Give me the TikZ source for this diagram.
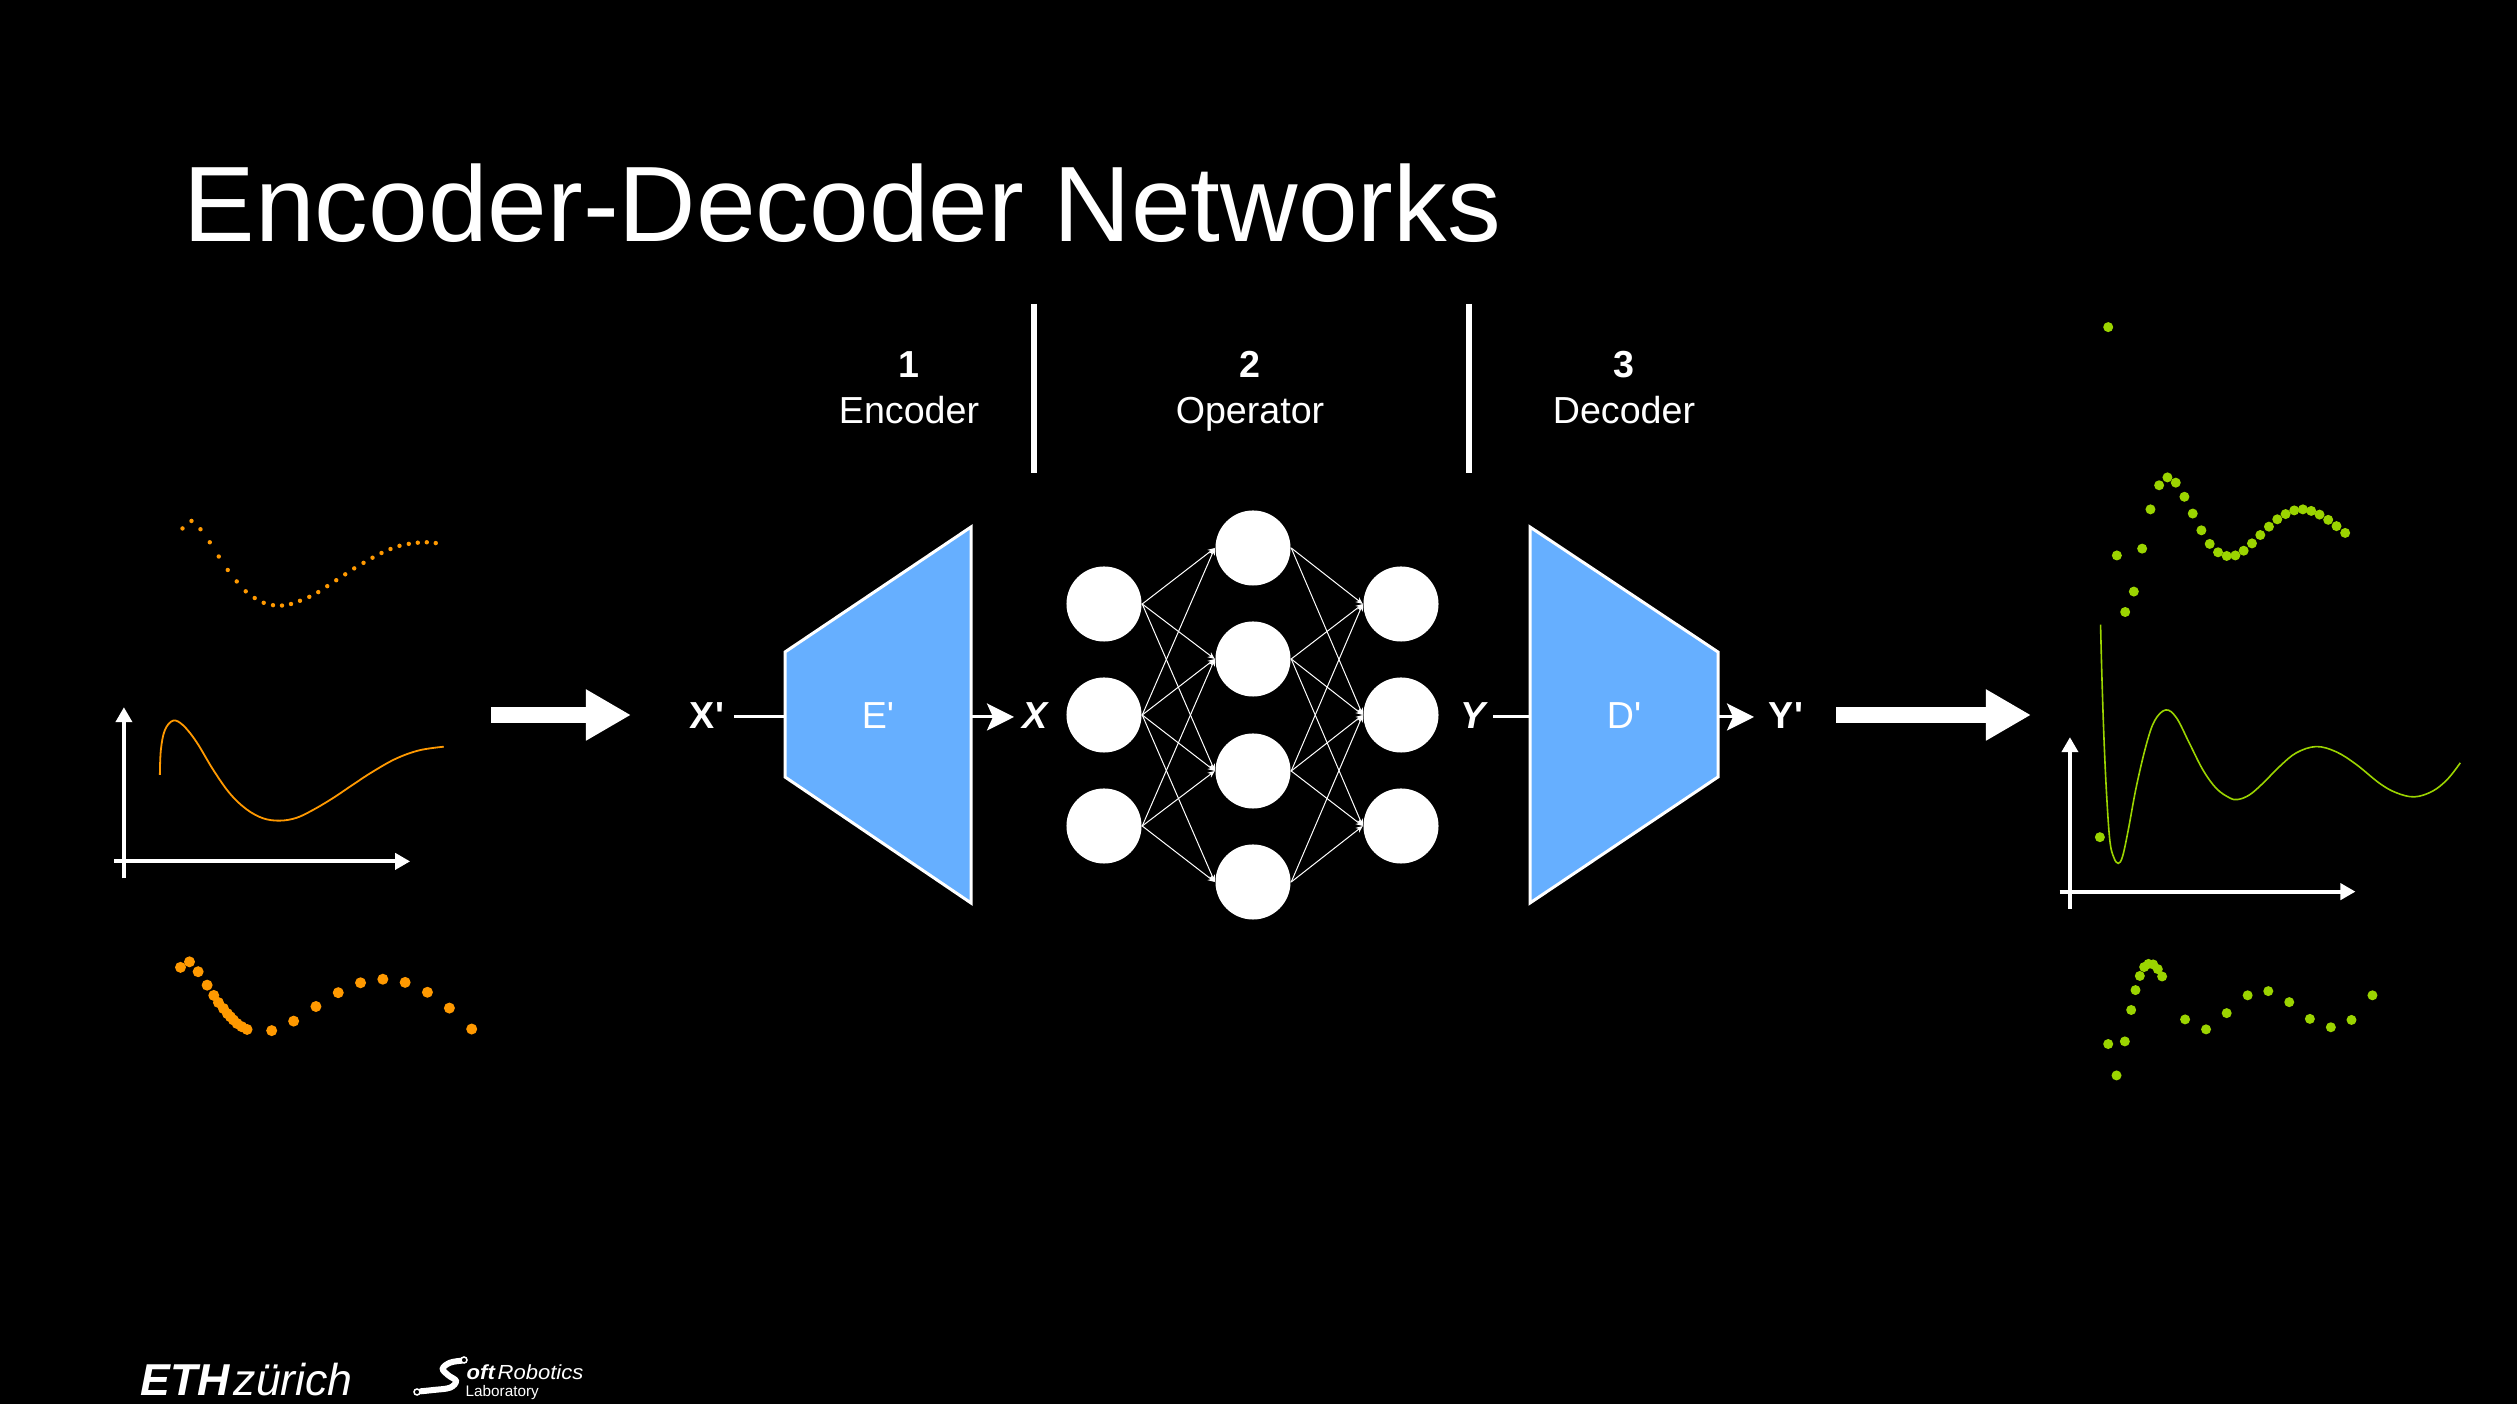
\documentclass[tikz,border=0pt]{standalone}
\usepackage{fontspec}
\setmainfont{Liberation Sans}
\newfontfamily\logofont[FakeStretch=1.08]{Liberation Sans}
\usetikzlibrary{arrows.meta}
\definecolor{inblue}{HTML}{66AFFF}
\definecolor{inorange}{HTML}{FF9900}
\definecolor{outgreen}{HTML}{9BD400}
\begin{document}
\begin{tikzpicture}[x=0.01cm,y=-0.01cm,
    every node/.style={inner sep=0pt,text=white},
    title/.style={anchor=base west,font=\fontsize{30.5}{34}\selectfont},
    lbl/.style={anchor=base,font=\fontsize{10.7}{12}\selectfont},
    boldlbl/.style={anchor=base,font=\fontsize{10.7}{12}\selectfont\bfseries},
    vecl/.style={anchor=base,font=\fontsize{10.7}{12}\selectfont\bfseries\itshape},
    neuron/.style={circle,fill=white,minimum size=0.75cm},
    link/.style={white,line width=0.01cm,-{Stealth[length=0.07cm,width=0.06cm]}},
    coder/.style={fill=inblue,draw=white,line width=0.03cm,line join=miter},
    wire/.style={white,line width=0.03cm},
    wirearrow/.style={wire,-{Stealth[length=0.27cm,width=0.27cm,inset=0.06cm]}},
    bigarrow/.style={white,line width=0.155cm,-{Triangle[length=0.45cm,width=0.48cm]}},
    axis/.style={white,line width=0.04cm,-{Triangle[length=0.15cm,width=0.16cm]}}]

    \fill[black] (0,-1) rectangle (2517,1403);
    \useasboundingbox (0,-1) rectangle (2517,1403);

    % Title
    \node (Title) at (183,241) [title] {Encoder-Decoder Networks};

    % Stage headings
    \draw[white,line width=0.06cm] (1034,303) -- (1034,472);
    \draw[white,line width=0.06cm] (1469,303) -- (1469,472);
    \node (Num1) at (909,377) [boldlbl] {1};
    \node (Enc) at (909,423) [lbl] {Encoder};
    \node (Num2) at (1250,377) [boldlbl] {2};
    \node (Op) at (1250,423) [lbl] {Operator};
    \node (Num3) at (1624,377) [boldlbl] {3};
    \node (Dec) at (1624,423) [lbl] {Decoder};

    % Encoder and decoder blocks
    \draw[coder] (785,651) -- (971,526) -- (971,902) -- (785,776) -- cycle;
    \draw[coder] (1530,526) -- (1718,651) -- (1718,776) -- (1530,902) -- cycle;
    \node (Ep) at (878,728) [lbl] {E\textquotesingle};
    \node (Dp) at (1624,728) [lbl] {D\textquotesingle};
    \coordinate (Ein) at (785,716);
    \coordinate (Eout) at (971,716);
    \coordinate (Din) at (1530,716);
    \coordinate (Dout) at (1718,716);

    % Inputs and outputs of the blocks
    \node (Xp) at (707,728) [boldlbl] {X\textquotesingle};
    \node (X) at (1035,728) [vecl] {X};
    \node (Y) at (1473,728) [vecl] {Y};
    \node (Yp) at (1786,728) [boldlbl] {Y\textquotesingle};
    \coordinate (XpEnd) at (734,716);
    \coordinate (XTip) at (1014,716);
    \coordinate (YEnd) at (1493,716);
    \coordinate (YpTip) at (1754,716);
    \draw[wire] (XpEnd) -- (Ein);
    \draw[wirearrow] (Eout) -- (XTip);
    \draw[wire] (YEnd) -- (Din);
    \draw[wirearrow] (Dout) -- (YpTip);

    % Network layers
    \foreach \n/\y in {1/603,2/714,3/825} {
        \node (L\n) at (1104,\y) [neuron] {};
        \node (R\n) at (1401,\y) [neuron] {};
    }
    \foreach \n/\y in {1/547,2/658,3/770,4/881}
        \node (M\n) at (1253,\y) [neuron] {};

    % Network links
    \foreach \a/\b in {L1/M1,L1/M2,L1/M3,L2/M1,L2/M2,L2/M3,L2/M4,L3/M2,L3/M3,L3/M4,
                       M1/R1,M1/R2,M2/R1,M2/R2,M2/R3,M3/R1,M3/R2,M3/R3,M4/R2,M4/R3}
        \draw[link] (\a.east) -- (\b.west);

    % Big arrows
    \coordinate (BigA) at (491,714);
    \coordinate (BigB) at (631,714);
    \coordinate (BigC) at (1836,714);
    \coordinate (BigD) at (2031,714);
    \draw[bigarrow] (BigA) -- (BigB);
    \draw[bigarrow] (BigC) -- (BigD);

    % Orange plots
    \begin{scope}[shift={(80,480)},x=0.003333cm,y=-0.003954cm]
        \foreach \x/\y in {308/120,335/101,362/122,390/155,417/191,444/225,471/254,498/279,525/296,552/308,
                           580/314,607/315,634/311,661/303,689/293,716/281,743/266,770/251,797/236,824/221,
                           852/207,879/194,906/182,933/172,960/164,988/159,1015/156,1042/155,1069/157}
            \fill[inorange] (\x,\y) circle [radius=0.022cm];
        \draw[inorange,line width=0.018cm] plot[smooth,tension=0.6] coordinates {(240,743) (243,680) (255,630) (280,606)
            (310,618) (350,660) (400,730) (450,790) (500,830) (550,853) (600,859) (650,852) (700,832)
            (760,802) (820,768) (880,735) (950,702) (1020,681) (1093,672)};
        \foreach \x/\y in {302/1230,329/1216,355/1241,382/1275,402/1301,416/1319,431/1334,443/1347,452/1355,461/1363,
                           472/1372,486/1380,502/1387,576/1390,642/1366,709/1329,776/1294,843/1269,910/1260,977/1268,
                           1044/1293,1110/1333,1177/1386}
            \fill[inorange] (\x,\y) circle [radius=0.055cm];
        \draw[axis] (132,1005) -- (132,572);
        \draw[axis] (103,962) -- (992,962);
    \end{scope}

    % Green plots
    \begin{scope}[shift={(2030,290)},x=0.003333cm,y=-0.00523cm]
        \foreach \x/\y in {235/69,210/1043,286/613,312/574,261/505,337/492,362/417,388/371,413/356,438/366,464/393,
                           489/425,515/457,540/483,565/499,591/506,617/505,642/496,667/482,692/466,718/450,
                           743/436,768/426,794/419,820/417,845/420,870/427,896/437,921/449,947/462}
            \fill[outgreen] (\x,\y) circle [radius=0.05cm];
        \draw[outgreen,line width=0.016cm] plot[smooth,tension=0.6] coordinates {(212,637) (216,735) (222,850) (230,960)
            (240,1050) (252,1082) (265,1093) (278,1080) (295,1030) (320,945) (350,865) (375,820) (408,800)
            (440,815) (480,865) (520,915) (560,950) (600,968) (625,971) (660,962) (700,940) (750,908)
            (800,882) (860,870) (920,880) (980,904) (1050,940) (1100,958) (1155,966) (1210,955) (1255,932) (1293,901)};
        \foreach \x/\y in {235/1438,260/1498,285/1433,304/1373,317/1335,330/1308,343/1291,356/1285,370/1286,384/1295,
                           397/1309,466/1391,529/1410,591/1379,654/1345,716/1337,779/1358,841/1390,904/1406,966/1392,1029/1345}
            \fill[outgreen] (\x,\y) circle [radius=0.05cm];
        \draw[axis] (120,1180) -- (120,852);
        \draw[axis] (89,1147) -- (978,1147);
    \end{scope}

    % Logos
    \node (Eth) at (140,1395) [anchor=base west,font=\fontsize{12.7}{14}\selectfont\bfseries\itshape] {ETH};
    \node (Zurich) at (233,1395) [anchor=base west,font=\fontsize{12.7}{14}\selectfont\itshape] {zürich};
    \draw[white,line width=0.06cm,line cap=round] plot[smooth,tension=0.6] coordinates {(461.7,1359.7) (450,1361.7)
        (442.7,1367.7) (448.3,1374.3) (456,1380) (450,1386.7) (433.3,1389) (420.7,1390.3)};
    \draw[white,fill=black,line width=0.015cm] (464,1359) circle [radius=0.03cm];
    \draw[white,fill=black,line width=0.015cm] (417,1391) circle [radius=0.03cm];
    \node (Soft) at (466,1379) [anchor=base west,font=\logofont\fontsize{5.8}{7}\selectfont\bfseries\itshape] {oft};
    \node (Robotics) at (497,1379) [anchor=base west,font=\logofont\fontsize{5.8}{7}\selectfont\itshape] {Robotics};
    \node (Lab) at (465,1396) [anchor=base west,font=\fontsize{4.35}{5}\selectfont] {Laboratory};
\end{tikzpicture}
\end{document}
